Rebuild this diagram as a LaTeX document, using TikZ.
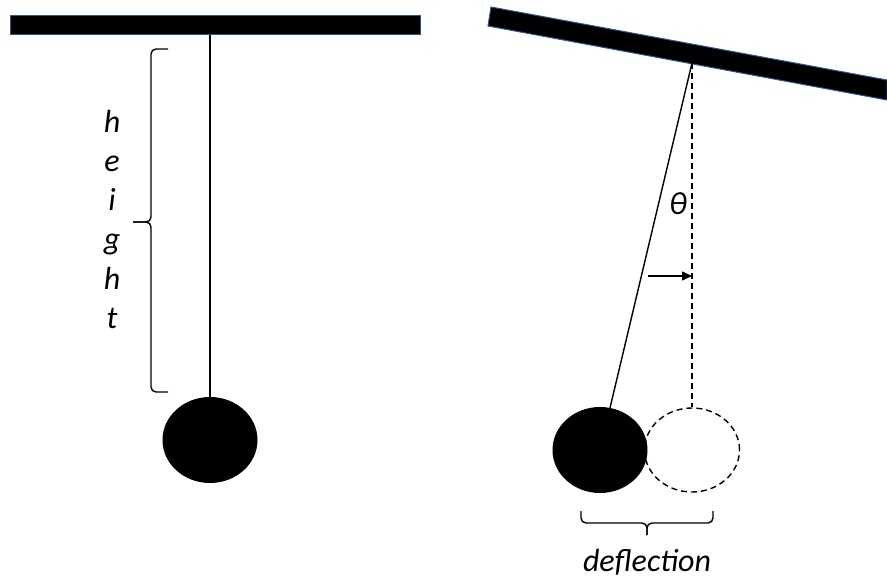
\documentclass[tikz,border=0pt]{standalone}
\usepackage{fontspec}
\setmainfont{Carlito}
\usepackage{xcolor}
\usetikzlibrary{shapes.geometric, arrows.meta}

\definecolor{barblue}{HTML}{2F5597}

\begin{document}
\begin{tikzpicture}[x=1pt, y=-1pt,
  bar/.style={draw=barblue, line width=1pt, fill=black},
  bob/.style={ellipse, fill=black, minimum width=95pt, minimum height=86pt, inner sep=0pt},
  ghost/.style={ellipse, draw, line width=1.4pt, dash pattern=on 6pt off 4pt,
                minimum width=95pt, minimum height=84pt, inner sep=0pt},
  string/.style={line width=1.4pt},
  curly/.style={line width=1.4pt, rounded corners=5pt},
  lbl/.style={font=\fontsize{32}{36}\selectfont\itshape, inner sep=0pt}]
  \useasboundingbox (0,0) rectangle (887,580);

  % LEFT: pendulum at rest
  \draw[bar] (10,16) rectangle (420,35);
  \coordinate (hookL) at (210,35);
  \node[bob] (bobL) at (210,440) {};
  \draw[string] (hookL) -- (bobL.north);

  % Height brace
  \draw[curly] (168,49) -- (151,49) -- (151,222) -- (133,222);
  \draw[curly] (168,392) -- (151,392) -- (151,222) -- (133,222);

  % Height label, one letter per line
  \foreach \ch/\yy [count=\i] in {h/133, e/172, i/211, g/250, h/290, t/329}
    \node[lbl, anchor=base] (ht\i) at (112,\yy) {\ch};

  % RIGHT: pendulum deflected
  \draw[bar] (491,7) -- (887,80) -- (887,100) -- (488,26) -- cycle;
  \coordinate (hookR) at (692,63);
  \node[bob] (bobR) at (600,450) {};
  \node[ghost] (rest) at (692,450) {};
  \draw[string] (hookR) -- (bobR);
  \draw[string, dash pattern=on 6pt off 4pt] (hookR) -- (rest.north);

  % Angle
  \node[lbl, anchor=base] (theta) at (678,215) {θ};
  \coordinate (tail) at (648,276);
  \coordinate (head) at (692,276);
  \draw[string, -{Triangle[length=10pt, width=9pt]}] (tail) -- (head);

  % Deflection brace
  \draw[curly] (581,511) -- (581,523) -- (647,523) -- (647,535);
  \draw[curly] (713,511) -- (713,523) -- (647,523) -- (647,535);
  \node[lbl, anchor=base] (defl) at (647,571) {deflection};
\end{tikzpicture}
\end{document}
